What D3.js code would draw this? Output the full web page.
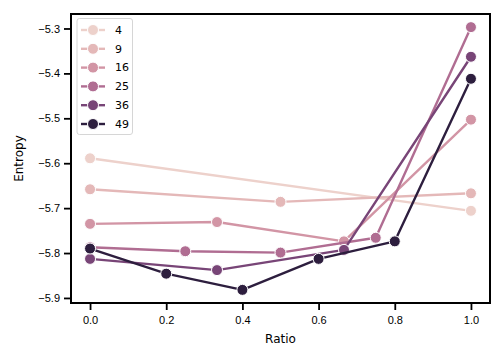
<!DOCTYPE html>
<html><head><meta charset="utf-8">
<script src="https://cdn.jsdelivr.net/npm/d3@7"></script>
<style>body{margin:0;background:#fff}svg{display:block;font-family:"DejaVu Sans",sans-serif}</style>
</head><body><svg id="c" width="504" height="360"></svg>
<script>
const sizes = [4, 9, 16, 25, 36, 49];
const ratios4 = [0, 1];
const ratios9 = [0, 0.5, 1];
const ratios16 = [0, 1/3, 2/3, 1];
const ratios25 = [0, 0.25, 0.5, 0.75, 1];
const ratios36 = [0, 1/3, 2/3, 1];
const ratios49 = [0, 0.2, 0.4, 0.6, 0.8, 1];
const entropy4 = [-5.589, -5.706];
const entropy9 = [-5.658, -5.686, -5.667];
const entropy16 = [-5.735, -5.731, -5.774, -5.503];
const entropy25 = [-5.787, -5.796, -5.799, -5.766, -5.297];
const entropy36 = [-5.813, -5.838, -5.793, -5.363];
const entropy49 = [-5.790, -5.846, -5.882, -5.813, -5.774, -5.412];
const xTicks = [0, 0.2, 0.4, 0.6, 0.8, 1.0];
const yTicks = [-5.9, -5.8, -5.7, -5.6, -5.5, -5.4, -5.3];

const seriesX = [ratios4, ratios9, ratios16, ratios25, ratios36, ratios49];
const seriesY = [entropy4, entropy9, entropy16, entropy25, entropy36, entropy49];
const series = sizes.map((s, i) => ({size: s, pts: seriesX[i].map((x, j) => ({x, y: seriesY[i][j]}))}));

// seaborn default cubehelix palette
function cubehelix(t) {
  const start = 0, rot = 0.4, gamma = 1, hue = 0.8, light = 0.85, dark = 0.15;
  const x = light + (dark - light) * t;
  const xg = Math.pow(x, gamma);
  const a = hue * xg * (1 - xg) / 2;
  const phi = 2 * Math.PI * (start / 3 + rot * x);
  const f = (p0, p1) => Math.max(0, Math.min(1, xg + a * (p0 * Math.cos(phi) + p1 * Math.sin(phi))));
  return d3.rgb(255 * f(-0.14861, 1.78277), 255 * f(-0.29227, -0.90649), 255 * f(1.97294, 0)).formatHex();
}
const color = s => cubehelix((s - d3.min(sizes)) / (d3.max(sizes) - d3.min(sizes)));

const L = 71, R = 490, T = 14, B = 303;
const allY = seriesY.flat();
const yMin = d3.min(allY), yMax = d3.max(allY), pad = (yMax - yMin) * 0.05;
const x = d3.scaleLinear().domain([-0.05, 1.05]).range([L, R]);
const y = d3.scaleLinear().domain([yMin - pad, yMax + pad]).range([B, T]);

const svg = d3.select("#c");

const line = d3.line().x(d => x(d.x)).y(d => y(d.y));
const plot = svg.append("g");
series.forEach(s => {
  const c = color(s.size);
  plot.append("path").datum(s.pts).attr("d", line).attr("fill", "none")
    .attr("stroke", c).attr("stroke-width", 2.4).attr("stroke-linejoin", "round").attr("stroke-linecap", "round");
  plot.selectAll(null).data(s.pts).enter().append("circle")
    .attr("cx", d => x(d.x)).attr("cy", d => y(d.y)).attr("r", 5.5)
    .attr("fill", c).attr("stroke", "#fff").attr("stroke-width", 1);
});

const xAxis = svg.append("g").attr("transform", `translate(0,${B})`)
  .call(d3.axisBottom(x).tickValues(xTicks).tickFormat(d3.format(".1f")).tickSize(7).tickPadding(6).tickSizeOuter(0));
const yAxis = svg.append("g").attr("transform", `translate(${L},0)`)
  .call(d3.axisLeft(y).tickValues(yTicks).tickFormat(d => d3.format(".1f")(d).replace("-", "\u2212")).tickSize(7).tickPadding(4).tickSizeOuter(0));
[xAxis, yAxis].forEach(g => {
  g.select(".domain").remove();
  g.selectAll(".tick line").attr("stroke", "#000").attr("stroke-width", 1.8);
  g.selectAll(".tick text").attr("fill", "#000").attr("font-size", 11);
});

svg.append("rect").attr("x", L).attr("y", T).attr("width", R - L).attr("height", B - T)
  .attr("fill", "none").attr("stroke", "#000").attr("stroke-width", 2);

svg.append("text").attr("x", (L + R) / 2).attr("y", 343).attr("text-anchor", "middle")
  .attr("font-size", 12).text("Ratio");
svg.append("text").attr("transform", `translate(23,${(T + B) / 2}) rotate(-90)`).attr("text-anchor", "middle")
  .attr("font-size", 12).text("Entropy");

// legend
const lg = svg.append("g");
lg.append("rect").attr("x", 77).attr("y", 18.5).attr("width", 55.5).attr("height", 116).attr("rx", 2.5)
  .attr("fill", "#fff").attr("fill-opacity", 0.8).attr("stroke", "#d6d6d6").attr("stroke-width", 1);
sizes.forEach((s, i) => {
  const cy = 30 + i * 18.8, c = color(s);
  lg.append("line").attr("x1", 81).attr("x2", 105).attr("y1", cy).attr("y2", cy).attr("stroke", c).attr("stroke-width", 2.4);
  lg.append("circle").attr("cx", 93).attr("cy", cy).attr("r", 5.5).attr("fill", c).attr("stroke", "#fff").attr("stroke-width", 1);
  lg.append("text").attr("x", 115).attr("y", cy).attr("dy", "0.35em").attr("font-size", 11).text(s);
});
</script></body></html>
